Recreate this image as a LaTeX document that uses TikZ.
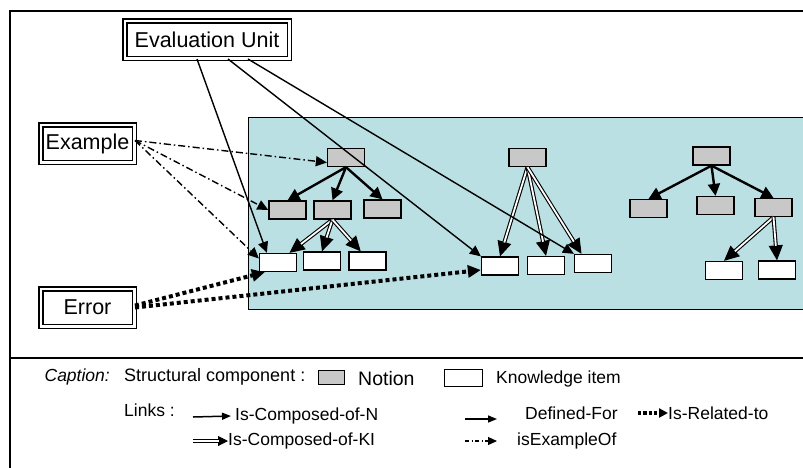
\documentclass[tikz,border=0pt]{standalone}
\usepackage{fontspec}
\setmainfont{Liberation Sans}
\usetikzlibrary{arrows.meta}

\definecolor{paleteal}{RGB}{187,224,227}
\definecolor{notiongray}{RGB}{200,200,200}

\begin{document}
\begin{tikzpicture}[x=1pt,y=-1pt]
    \tikzstyle{every node}+=[inner sep=0pt, font=\fontsize{17.5}{20}\selectfont]
    \tikzstyle{actor}=[draw, double, line width=1.5pt, double distance=2.5pt, minimum height=37.5pt, font=\fontsize{21.5}{24}\selectfont]
    \tikzstyle{notion}=[draw, fill=notiongray, line width=1.3pt, minimum width=37pt, minimum height=18pt]
    \tikzstyle{kitem}=[draw, fill=white, line width=1.3pt, minimum width=37pt, minimum height=18pt]
    \tikzstyle{compN}=[line width=2.4pt, -{Triangle[length=12pt,width=12pt]}]
    \tikzstyle{kiTip}=[line width=1.1pt, -{Triangle[length=15pt,width=14pt]}]
    \tikzstyle{kiShaft}=[double, line width=1.1pt, double distance=1.8pt, shorten >=14.5pt]
    \tikzstyle{defFor}=[line width=1.4pt, -{Triangle[length=11pt,width=10pt]}]
    \tikzstyle{exOf}=[line width=1.4pt, dash pattern=on 7pt off 3pt on 1.5pt off 3pt, -{Triangle[length=11pt,width=10pt]}]
    \tikzstyle{relTo}=[line width=4pt, dash pattern=on 4pt off 3pt, -{Triangle[length=13pt,width=12pt]}]
    \useasboundingbox (0,0) rectangle (803,467);
    \draw [line width=1.5pt] (10,470) -- (10,11) -- (806,11);
    \draw [line width=1.2pt] (10,358) -- (806,358);
    \draw [line width=1pt, fill=paleteal] (248,117) rectangle (808,309);
    \node [actor, minimum width=164.5pt] (evalunit) at (207,39.5) {Evaluation Unit};
    \node [actor, minimum width=93.5pt] (example) at (87.5,143.5) {Example};
    \node [actor, minimum width=93.5pt] (error) at (87.5,307.5) {Error};
    \node [notion] (t1r) at (346,157.5) {};
    \node [notion] (t1c1) at (287.5,210) {};
    \node [notion] (t1c2) at (332.5,210) {};
    \node [notion] (t1c3) at (382.5,209) {};
    \node [kitem] (t1l1) at (278,262.5) {};
    \node [kitem] (t1l2) at (322,261) {};
    \node [kitem] (t1l3) at (367.5,261) {};
    \node [notion] (t2r) at (527.5,157.5) {};
    \node [kitem] (t2l1) at (500,266) {};
    \node [kitem] (t2l2) at (546,265.5) {};
    \node [kitem] (t2l3) at (593,263.5) {};
    \node [notion] (t3r) at (711.5,156) {};
    \node [notion] (t3c1) at (648.5,208.5) {};
    \node [notion] (t3c2) at (715.5,205.5) {};
    \node [notion] (t3c3) at (773.5,207.5) {};
    \node [kitem] (t3l1) at (724,270.5) {};
    \node [kitem] (t3l2) at (777,270) {};
    \draw [compN] (t1r.south) -- (t1c1.north);
    \draw [compN] (t1r.south) -- (t1c2.north);
    \draw [compN] (t1r.south) -- (t1c3.north);
    \draw [kiTip] (t1c2.south) -- (t1l1.40);
    \draw [kiShaft] (t1c2.south) -- (t1l1.40);
    \draw [kiTip] (t1c2.south) -- (t1l2.north);
    \draw [kiShaft] (t1c2.south) -- (t1l2.north);
    \draw [kiTip] (t1c2.south) -- (t1l3.125);
    \draw [kiShaft] (t1c2.south) -- (t1l3.125);
    \draw [kiTip] (t2r.south) -- (t2l1.north);
    \draw [kiShaft] (t2r.south) -- (t2l1.north);
    \draw [kiTip] (t2r.south) -- (t2l2.north);
    \draw [kiShaft] (t2r.south) -- (t2l2.north);
    \draw [kiTip] (t2r.south) -- (t2l3.140);
    \draw [kiShaft] (t2r.south) -- (t2l3.140);
    \draw [compN] (t3r.south) -- (t3c1.north);
    \draw [compN] (t3r.south) -- (t3c2.north);
    \draw [compN] (t3r.south) -- (t3c3.north);
    \draw [kiTip] (t3c3.south) -- (t3l1.north);
    \draw [kiShaft] (t3c3.south) -- (t3l1.north);
    \draw [kiTip] (t3c3.south) -- (t3l2.north);
    \draw [kiShaft] (t3c3.south) -- (t3l2.north);
    \draw [defFor] ([xshift=-10pt]evalunit.south) -- ([xshift=8pt]t1l1.north west);
    \draw [defFor] ([xshift=21pt]evalunit.south) -- (t2l1.north west);
    \draw [defFor] ([xshift=41pt]evalunit.south) -- (t2l3.north west);
    \draw [exOf] ([yshift=3pt]example.east) -- ([yshift=-5pt]t1r.west);
    \draw [exOf] ([yshift=3pt]example.east) -- (t1c1.west);
    \draw [exOf] ([yshift=3pt]example.east) -- ([yshift=4pt]t1l1.west);
    \draw [relTo] ([yshift=2pt]error.east) -- ([xshift=6pt]t1l1.south west);
    \draw [relTo] (error.east) -- ([yshift=-4pt]t2l1.west);
    \node [anchor=east, font=\fontsize{17.5}{20}\selectfont\itshape] (captionlbl) at (110,377) {Caption:};
    \node [anchor=west, font=\fontsize{18}{20}\selectfont] (structlbl) at (124,377) {Structural component :};
    \node [notion, minimum width=26pt, minimum height=14pt] (lgnotion) at (331.5,377.5) {};
    \node [anchor=west, font=\fontsize{19.5}{22}\selectfont] (notionlbl) at (358,379) {Notion};
    \node [kitem, minimum width=38pt, minimum height=17pt, line width=1pt] (lgkitem) at (463.5,378) {};
    \node [anchor=west] (kitemlbl) at (496,379) {Knowledge item};
    \node [anchor=west] (linkslbl) at (124,410) {Links :};
    \node [anchor=west] (lgN) at (235,416) {Is-Composed-of-N};
    \coordinate (lgNs) at (193,417);
    \draw [line width=1.5pt, -{Triangle[length=9pt,width=7pt]}] (lgNs) -- ([xshift=-4pt]lgN.west);
    \node [anchor=west] (lgKI) at (228,441) {Is-Composed-of-KI};
    \coordinate (lgKIs) at (193,441);
    \draw [line width=1pt, -{Triangle[length=10pt,width=10pt]}] (lgKIs) -- (lgKI.west);
    \draw [double, line width=1pt, double distance=1.6pt, shorten >=9.5pt] (lgKIs) -- (lgKI.west);
    \node [anchor=west] (lgDF) at (525,413) {Defined-For};
    \coordinate (lgDFs) at (465,419);
    \draw [line width=1.5pt, -{Triangle[length=9pt,width=7pt]}] (lgDFs) -- ([xshift=-28pt,yshift=-6pt]lgDF.west);
    \node [anchor=west] (lgRT) at (668,413) {Is-Related-to};
    \coordinate (lgRTs) at (638,413);
    \draw [line width=3.2pt, dash pattern=on 3.2pt off 2.2pt, -{Triangle[length=9pt,width=9pt]}] (lgRTs) -- (lgRT.west);
    \node [anchor=west] (lgEx) at (517,441) {isExampleOf};
    \coordinate (lgExs) at (465,441);
    \draw [line width=1.2pt, dash pattern=on 4pt off 2.5pt on 1.2pt off 2.5pt, -{Triangle[length=9pt,width=8pt]}] (lgExs) -- ([xshift=-20pt]lgEx.west);
\end{tikzpicture}
\end{document}
